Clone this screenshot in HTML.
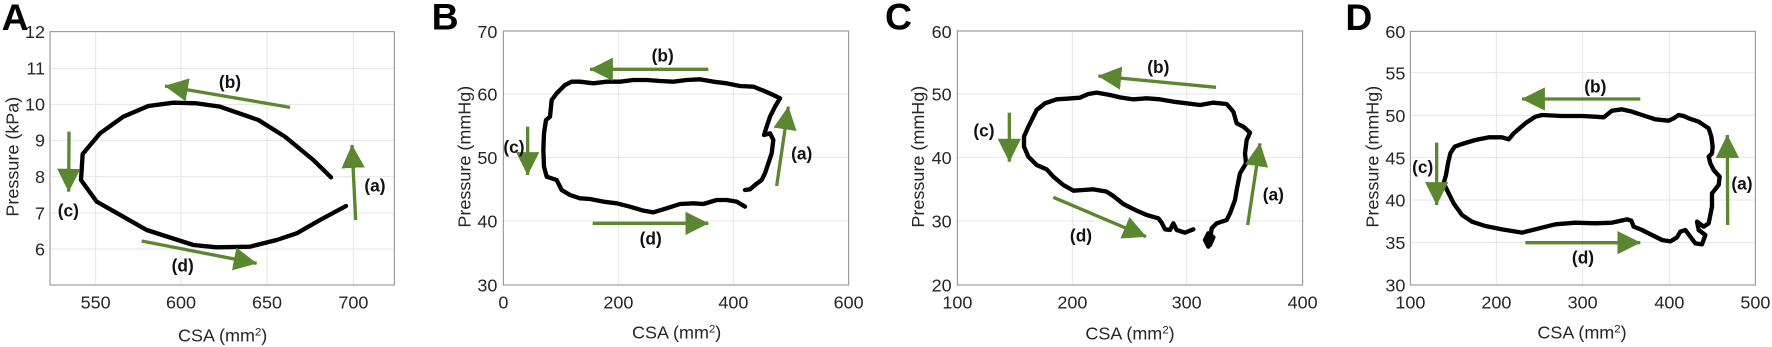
<!DOCTYPE html>
<html><head><meta charset="utf-8"><style>
html,body{margin:0;padding:0;background:#fff}
svg{display:block}
text{font-family:"Liberation Sans",Arial,sans-serif}
.t{font-size:54px;fill:#262626}
.al{font-size:54px;fill:#262626}
.lb{font-size:52px;font-weight:bold;fill:#111}
.pl{font-size:112px;font-weight:bold;fill:#000}
.g{stroke:#e6e6e6;stroke-width:3}
.bx{fill:none;stroke:#8a8a8a;stroke-width:3}
.c{fill:none;stroke:#000;stroke-width:13;stroke-linejoin:round;stroke-linecap:round}
.ar{stroke:#5b8731;stroke-width:10;fill:none;marker-end:url(#h)}
</style></head><body>
<svg width="1772" height="347" viewBox="0 0 1772 347" xmlns="http://www.w3.org/2000/svg">
<defs>
<marker id="h" markerUnits="userSpaceOnUse" markerWidth="70" markerHeight="70" refX="55" refY="28" orient="auto" viewBox="0 0 56 56">
<path d="M0,0 L56,28 L0,56 Z" fill="#5b8731"/>
</marker>
</defs>

<!-- Panel A -->
<g transform="translate(0,0) scale(0.3333333)">
<g class="g">
<line x1="287" y1="95" x2="287" y2="855"/><line x1="543" y1="95" x2="543" y2="855"/><line x1="801" y1="95" x2="801" y2="855"/><line x1="1060" y1="95" x2="1060" y2="855"/>
<line x1="150" y1="205" x2="1183" y2="205"/><line x1="150" y1="313" x2="1183" y2="313"/><line x1="150" y1="421" x2="1183" y2="421"/><line x1="150" y1="530" x2="1183" y2="530"/><line x1="150" y1="639" x2="1183" y2="639"/><line x1="150" y1="747" x2="1183" y2="747"/>
</g>
<rect class="bx" x="150" y="95" width="1033" height="760"/>
<g class="t" text-anchor="end">
<text x="135" y="114">12</text><text x="135" y="224">11</text><text x="135" y="332">10</text><text x="135" y="440">9</text><text x="135" y="549">8</text><text x="135" y="658">7</text><text x="135" y="766">6</text>
</g>
<g class="t" text-anchor="middle">
<text x="287" y="926">550</text><text x="543" y="926">600</text><text x="801" y="926">650</text><text x="1060" y="926">700</text>
</g>
<text class="al" x="668" y="1025" text-anchor="middle">CSA (mm<tspan font-size="34" dy="-18">2</tspan><tspan dy="18">)</tspan></text>
<text class="al" transform="translate(55,470) rotate(-90)" text-anchor="middle">Pressure (kPa)</text>
<path class="c" d="M993,532 L940,480 L855,410 L775,360 L660,320 L590,310 L520,308 L445,318 L370,350 L300,400 L248,462 L243,540 L290,605 L440,690 L580,735 L650,742 L750,740 L830,720 L890,700 L960,660 L1038,618"/>
<line class="ar" x1="870" y1="322" x2="495" y2="258"/>
<line class="ar" x1="207" y1="395" x2="206" y2="575"/>
<line class="ar" x1="425" y1="723" x2="770" y2="790"/>
<line class="ar" x1="1067" y1="660" x2="1056" y2="435"/>
<g class="lb" text-anchor="middle"><text x="690" y="264">(b)</text><text x="205" y="649">(c)</text><text x="548" y="814">(d)</text><text x="1125" y="574">(a)</text></g>
<text class="pl" x="5" y="90">A</text>
</g>

<!-- Panel B -->
<g transform="translate(440,0) scale(0.3333333)">
<g class="g">
<line x1="535" y1="93" x2="535" y2="855"/><line x1="880" y1="93" x2="880" y2="855"/>
<line x1="190" y1="282" x2="1226" y2="282"/><line x1="190" y1="472" x2="1226" y2="472"/><line x1="190" y1="663" x2="1226" y2="663"/>
</g>
<rect class="bx" x="190" y="93" width="1036" height="762"/>
<g class="t" text-anchor="end">
<text x="172" y="114">70</text><text x="172" y="302">60</text><text x="172" y="492">50</text><text x="172" y="683">40</text><text x="172" y="874">30</text>
</g>
<g class="t" text-anchor="middle">
<text x="190" y="926">0</text><text x="535" y="926">200</text><text x="880" y="926">400</text><text x="1226" y="926">600</text>
</g>
<text class="al" x="710" y="1015" text-anchor="middle">CSA (mm<tspan font-size="34" dy="-18">2</tspan><tspan dy="18">)</tspan></text>
<text class="al" transform="translate(92,470) rotate(-90)" text-anchor="middle">Pressure (mmHg)</text>
<path class="c" d="M915,570 L930,568 L945,555 L965,540 L975,520 L985,490 L995,460 L1000,420 L990,400 L972,405 L980,380 L990,350 L1005,320 L1020,295 L1000,285 L970,272 L940,260 L900,258 L860,250 L820,245 L780,238 L740,240 L700,245 L660,243 L620,240 L580,240 L540,245 L500,245 L460,250 L420,245 L395,245 L375,255 L350,280 L335,300 L330,350 L318,360 L312,400 L310,450 L312,500 L320,530 L350,540 L365,570 L390,585 L420,595 L450,597 L490,605 L530,610 L570,620 L610,632 L640,637 L680,625 L720,612 L760,610 L790,612 L830,600 L860,600 L890,605 L915,620"/>
<line class="ar" x1="805" y1="208" x2="450" y2="208"/>
<line class="ar" x1="263" y1="380" x2="263" y2="525"/>
<line class="ar" x1="458" y1="670" x2="805" y2="670"/>
<line class="ar" x1="1010" y1="558" x2="1045" y2="320"/>
<g class="lb" text-anchor="middle"><text x="668" y="184">(b)</text><text x="222" y="459">(c)</text><text x="632" y="734">(d)</text><text x="1085" y="479">(a)</text></g>
<text class="pl" x="-25" y="88">B</text>
</g>

<!-- Panel C -->
<g transform="translate(880,0) scale(0.3333333)">
<g class="g">
<line x1="577" y1="93" x2="577" y2="855"/><line x1="920" y1="93" x2="920" y2="855"/>
<line x1="232" y1="282" x2="1268" y2="282"/><line x1="232" y1="472" x2="1268" y2="472"/><line x1="232" y1="663" x2="1268" y2="663"/>
</g>
<rect class="bx" x="232" y="93" width="1036" height="762"/>
<g class="t" text-anchor="end">
<text x="215" y="114">60</text><text x="215" y="302">50</text><text x="215" y="492">40</text><text x="215" y="683">30</text><text x="215" y="874">20</text>
</g>
<g class="t" text-anchor="middle">
<text x="232" y="926">100</text><text x="577" y="926">200</text><text x="920" y="926">300</text><text x="1268" y="926">400</text>
</g>
<text class="al" x="750" y="1018" text-anchor="middle">CSA (mm<tspan font-size="34" dy="-18">2</tspan><tspan dy="18">)</tspan></text>
<text class="al" transform="translate(132,470) rotate(-90)" text-anchor="middle">Pressure (mmHg)</text>
<path class="c" d="M940,688 L915,698 L890,690 L880,670 L870,690 L855,688 L845,668 L835,655 L800,645 L770,632 L730,612 L700,588 L680,575 L640,568 L610,570 L580,572 L550,555 L520,530 L500,508 L470,495 L445,470 L432,440 L432,410 L445,380 L460,350 L470,330 L495,310 L530,298 L560,296 L600,293 L625,282 L650,278 L690,285 L720,292 L760,298 L800,295 L840,298 L880,305 L920,310 L960,315 L1000,308 L1040,312 L1060,335 L1070,370 L1090,380 L1110,398 L1100,420 L1095,460 L1098,490 L1080,520 L1070,570 L1065,600 L1050,640 L1040,660 L1010,670 L995,685 L990,720 L985,740 L975,720 L985,700 L1000,712 L990,735 L980,712"/>
<line class="ar" x1="1008" y1="262" x2="655" y2="228"/>
<line class="ar" x1="388" y1="338" x2="388" y2="485"/>
<line class="ar" x1="520" y1="592" x2="798" y2="710"/>
<line class="ar" x1="1103" y1="675" x2="1140" y2="430"/>
<g class="lb" text-anchor="middle"><text x="835" y="219">(b)</text><text x="312" y="409">(c)</text><text x="603" y="724">(d)</text><text x="1180" y="602">(a)</text></g>
<text class="pl" x="15" y="88">C</text>
</g>

<!-- Panel D -->
<g transform="translate(1322,0) scale(0.3333333)">
<g class="g">
<line x1="523" y1="94" x2="523" y2="855"/><line x1="782" y1="94" x2="782" y2="855"/><line x1="1042" y1="94" x2="1042" y2="855"/>
<line x1="265" y1="218" x2="1300" y2="218"/><line x1="265" y1="346" x2="1300" y2="346"/><line x1="265" y1="473" x2="1300" y2="473"/><line x1="265" y1="600" x2="1300" y2="600"/><line x1="265" y1="727" x2="1300" y2="727"/>
</g>
<rect class="bx" x="265" y="94" width="1035" height="761"/>
<g class="t" text-anchor="end">
<text x="250" y="114">60</text><text x="250" y="238">55</text><text x="250" y="366">50</text><text x="250" y="493">45</text><text x="250" y="620">40</text><text x="250" y="747">35</text><text x="250" y="874">30</text>
</g>
<g class="t" text-anchor="middle">
<text x="265" y="926">100</text><text x="523" y="926">200</text><text x="782" y="926">300</text><text x="1042" y="926">400</text><text x="1300" y="926">500</text>
</g>
<text class="al" x="780" y="1015" text-anchor="middle">CSA (mm<tspan font-size="34" dy="-18">2</tspan><tspan dy="18">)</tspan></text>
<text class="al" transform="translate(170,470) rotate(-90)" text-anchor="middle">Pressure (mmHg)</text>
<path class="c" d="M1160,670 L1170,620 L1170,580 L1190,555 L1193,530 L1175,510 L1165,490 L1160,470 L1170,460 L1172,440 L1168,410 L1160,385 L1145,375 L1130,365 L1100,355 L1085,348 L1070,345 L1055,355 L1040,362 L1000,358 L960,345 L930,335 L900,328 L870,332 L845,352 L820,350 L780,348 L720,348 L660,345 L640,350 L610,370 L575,400 L560,418 L540,412 L500,412 L460,420 L420,432 L398,440 L385,460 L378,490 L372,525 L365,550 L375,570 L395,610 L420,645 L450,665 L490,678 L540,688 L600,698 L640,688 L700,673 L760,668 L820,670 L870,668 L915,658 L928,662 L935,680 L960,690 L990,705 L1020,720 L1045,724 L1065,712 L1075,695 L1090,690 L1105,710 L1120,730 L1140,733 L1150,705 L1130,690 L1125,665 L1145,680 L1160,670"/>
<line class="ar" x1="955" y1="297" x2="600" y2="297"/>
<line class="ar" x1="344" y1="428" x2="344" y2="615"/>
<line class="ar" x1="610" y1="728" x2="955" y2="728"/>
<line class="ar" x1="1217" y1="675" x2="1216" y2="405"/>
<g class="lb" text-anchor="middle"><text x="820" y="277">(b)</text><text x="302" y="519">(c)</text><text x="783" y="791">(d)</text><text x="1260" y="569">(a)</text></g>
<text class="pl" x="70" y="90">D</text>
</g>
</svg>
</body></html>
